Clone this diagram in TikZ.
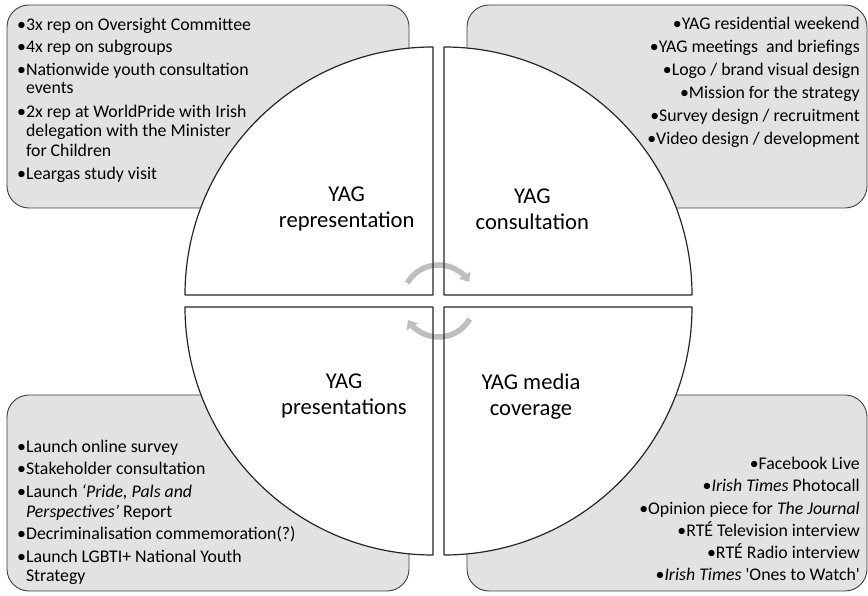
\documentclass[tikz,border=0pt]{standalone}
\usepackage{fontspec}
\setmainfont{Carlito}
\usetikzlibrary{arrows.meta}
\definecolor{panelgray}{HTML}{E1E2E3}
\definecolor{paneledge}{HTML}{3F3F3F}
\definecolor{cyclegray}{HTML}{BEBEBE}
\newcommand{\hang}{\hphantom{•}}
\tikzset{
  panel/.style={draw=paneledge, fill=panelgray, line width=0.9pt, rounded corners=22pt},
  quarter/.style={draw=black!85, line width=1.2pt},
  entry/.style={inner sep=0pt, font=\fontsize{17.8}{20}\selectfont},
  heading/.style={align=center, font=\fontsize{22.6}{25.8}\selectfont},
  turn/.style={draw=cyclegray, line width=5.5pt, -{Triangle[width=13pt,length=8pt]}}
}
\begin{document}
\begin{tikzpicture}[x=1pt, y=1pt, line join=round]
\useasboundingbox (0,0) rectangle (868,596);
\path
(433,301) coordinate (TL)
(444,301) coordinate (TR)
(433,289) coordinate (BL)
(444,289) coordinate (BR)
(438.5,295) coordinate (M);
% grey panels behind the quarters
\draw[panel] (7,388) rectangle (409,591);
\draw[panel] (467,388) rectangle (867,591);
\draw[panel] (7,5) rectangle (409,201);
\draw[panel] (467,5) rectangle (867,201);
% white quarters
\foreach \c/\a in {TL/180, TR/90, BR/0, BL/270}
\fill[white] (\c) -- ++(\a:248pt) arc[start angle=\a, delta angle=-90, radius=248pt] -- cycle;
% cycle arrows
\draw[turn] (M) ++(150:36pt) arc[start angle=150, end angle=32, radius=36pt];
\draw[turn] (M) ++(-30:36pt) arc[start angle=-30, end angle=-148, radius=36pt];
\foreach \c/\a in {TL/180, TR/90, BR/0, BL/270}
\draw[quarter] (\c) -- ++(\a:248pt) arc[start angle=\a, delta angle=-90, radius=248pt] -- cycle;
% headings
\node[heading] (rep) at (346.7,387.1) {YAG\\representation};
\node[heading] (cons) at (532.3,387.1) {YAG\\consultation};
\node[heading] (pres) at (344,199.7) {YAG\\presentations};
\node[heading] (media) at (531,199.7) {YAG media\\coverage};
% representation items
\foreach \y/\t [count=\i] in {
  565.3/{•3x rep on Oversight Committee},
  543.3/{•4x rep on subgroups},
  520.7/{•Nationwide youth consultation},
  502/{\hang events},
  478.7/{•2x rep at WorldPride with Irish},
  459.3/{\hang delegation with the Minister},
  439.3/{\hang for Children},
  416.7/{•Leargas study visit}}
\node[entry, anchor=base west] (rep-\i) at (17,\y) {\t};
% consultation items
\foreach \y/\t [count=\i] in {
  566/{•YAG residential weekend},
  543.3/{•YAG meetings\ \ and briefings},
  520.3/{•Logo / brand visual design},
  497.7/{•Mission for the strategy},
  474.3/{•Survey design / recruitment},
  451.7/{•Video design / development}}
\node[entry, anchor=base east] (cons-\i) at (860,\y) {\t};
% presentation items
\foreach \y/\t [count=\i] in {
  143.3/{•Launch online survey},
  121/{•Stakeholder consultation},
  98.3/{•Launch \textit{‘Pride, Pals and}},
  78.7/{\hang\textit{Perspectives’} Report},
  56/{•Decriminalisation commemoration(?)},
  33.7/{•Launch LGBTI+ National Youth},
  14.3/{\hang Strategy}}
\node[entry, anchor=base west] (pres-\i) at (17,\y) {\t};
% media items
\foreach \y/\t [count=\i] in {
  126.7/{•Facebook Live},
  104.3/{•\textit{Irish Times} Photocall},
  81.7/{•Opinion piece for \textit{The Journal}},
  59.3/{•RTÉ Television interview},
  37.3/{•RTÉ Radio interview},
  15/{•\textit{Irish Times} \textquotesingle Ones to Watch\textquotesingle}}
\node[entry, anchor=base east] (media-\i) at (860,\y) {\t};
\end{tikzpicture}
\end{document}
